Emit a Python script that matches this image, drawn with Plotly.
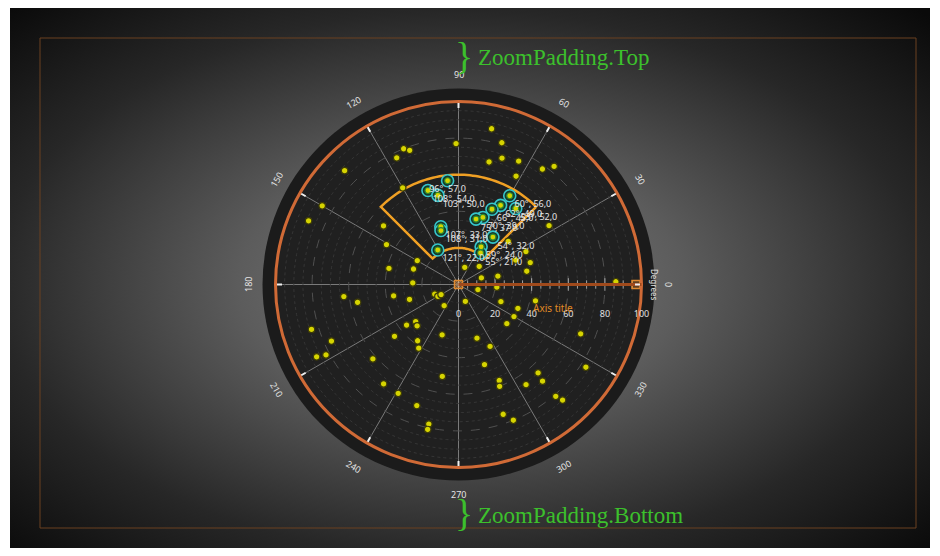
import base64
import numpy as np
import plotly.graph_objects as go

# ---------------- data ----------------
pt_theta = [112, 110, 116, 135, 91, 120, 150, 157, 142, 151, 150, 167, 161, 178,
            78, 73, 71, 76, 64, 54, 51, 62, 33, 41, 26, 23, 17, 70, 41, 11, 16, 12, 1,
            186, 190, 190, 197, 202, 210, 210, 236, 197, 204, 207, 208, 218, 221, 225,
            219, 252, 234, 238, 221, 260, 233, 241, 251, 258, 258,
            345, 356, 292, 338, 348, 338, 330, 321, 289, 297, 338, 288, 327, 312, 311,
            293, 292, 304, 311, 312, 289, 292]
pt_r = [80, 78, 77, 88, 77, 61, 86, 89, 52, 45, 26, 39, 26, 25,
        87, 81, 73, 69, 75, 78, 83, 67, 59, 36, 41, 34, 41, 10, 15, 38, 13, 22, 86,
        63, 56, 36, 28, 14, 13, 11, 14, 84, 76, 87, 82, 36, 31, 32,
        45, 29, 38, 41, 62, 51, 68, 68, 70, 78, 81,
        11, 21, 10, 25, 43, 35, 35, 34, 31, 38, 72, 46, 83, 65, 70,
        57, 60, 66, 81, 85, 75, 80]

sel_theta = [96, 108, 103, 107, 108, 121, 60, 62, 66, 53, 70, 75, 54, 59, 55]
sel_r = [57, 54, 50, 33, 31, 22, 56, 49, 45, 52, 39, 37, 32, 24, 21]

zoom_theta = [45, 135]      # selection sector (degrees)
zoom_r = [20, 60]           # selection sector (radius)

ang_ticks = [0, 30, 60, 90, 120, 150, 180, 210, 240, 270, 300, 330]
rad_range = [0, 100]
rad_dtick = 20
rad_minor_step = 5

# ---------------- layout geometry ----------------
W, H = 924, 540          # figure size (page has 8px body margin)
OFF = 8
CX, CY = 458.5, 284.5    # polar centre in page px
RP = 183                 # polar radius in px
R_DISK = 196
R_LAB = 210


def px(x):
    return (x - OFF) / W


def py(y):
    return 1 - (y - OFF) / H


fig = go.Figure()

# minor dotted rings
circ = np.linspace(0, 360, 241)
for rr in range(rad_minor_step, rad_range[1], rad_minor_step):
    if rr % rad_dtick == 0:
        continue
    fig.add_trace(go.Scatterpolar(theta=circ, r=[rr] * len(circ), mode="lines",
                                  line=dict(color="#363636", width=1, dash="dot"),
                                  hoverinfo="skip"))

# selection sector outline
ts = np.linspace(zoom_theta[0], zoom_theta[1], 61)
sec_t = list(ts) + list(ts[::-1]) + [zoom_theta[0]]
sec_r = [zoom_r[1]] * len(ts) + [zoom_r[0]] * len(ts) + [zoom_r[1]]
fig.add_trace(go.Scatterpolar(theta=sec_t, r=sec_r, mode="lines",
                              line=dict(color="#f0a024", width=2.5), hoverinfo="skip"))

# radial axis minor ticks
rt = list(range(rad_range[0], rad_range[1] + 1, rad_minor_step))
fig.add_trace(go.Scatterpolar(theta=[0] * len(rt), r=rt, mode="markers",
                              marker=dict(symbol="line-ns", size=[9 if v % rad_dtick == 0 else 6 for v in rt],
                                          line=dict(color="#d8d8d8", width=1)),
                              hoverinfo="skip"))
# axis end squares
fig.add_trace(go.Scatterpolar(theta=[0, 0], r=[0, 97], mode="markers",
                              marker=dict(symbol="square", size=8, color="rgba(220,130,40,0.35)",
                                          line=dict(color="#e08a30", width=1.5)),
                              hoverinfo="skip"))

# regular points
fig.add_trace(go.Scatterpolar(theta=pt_theta, r=pt_r, mode="markers",
                              marker=dict(size=6.5, color="#d6d400",
                                          line=dict(color="#3c3a08", width=1.2))))

# selected points: cyan ring + yellow dot + label
fig.add_trace(go.Scatterpolar(theta=sel_theta, r=sel_r, mode="markers",
                              marker=dict(size=12, color="#163a2c",
                                          line=dict(color="#36c6cc", width=1.6))))
labels = [f"{t}°, {r:.1f}".replace(".", ",") for t, r in zip(sel_theta, sel_r)]
tpos = ["bottom center" if t == 96 else "bottom right" for t in sel_theta]
fig.add_trace(go.Scatterpolar(theta=sel_theta, r=sel_r, mode="markers+text",
                              text=labels, textposition=tpos,
                              textfont=dict(family="Noto Sans", size=9, color="#e6e6e6"),
                              marker=dict(size=6, color="#d6d400",
                                          line=dict(color="#2c8a30", width=1.2))))

# ---------------- background ----------------
svg = ('<svg xmlns="http://www.w3.org/2000/svg" width="920" height="540" viewBox="0 0 920 540" '
       'preserveAspectRatio="none"><defs><radialGradient id="g" cx="49%" cy="51%" r="71%">'
       '<stop offset="0" stop-color="#7e7e7e"/><stop offset="0.34" stop-color="#5c5c5c"/>'
       '<stop offset="0.55" stop-color="#3e3e3e"/><stop offset="0.71" stop-color="#272727"/>'
       '<stop offset="1" stop-color="#0a0a0a"/></radialGradient></defs>'
       '<rect width="920" height="540" fill="url(#g)"/></svg>')
src = "data:image/svg+xml;base64," + base64.b64encode(svg.encode()).decode()

shapes = [
    dict(type="circle", xref="paper", yref="paper", layer="below",
         x0=px(CX - R_DISK), x1=px(CX + R_DISK), y0=py(CY + R_DISK), y1=py(CY - R_DISK),
         fillcolor="#1b1b1b", line=dict(width=0)),
    dict(type="rect", xref="paper", yref="paper", layer="below",
         x0=px(40), x1=px(916), y0=py(528), y1=py(38),
         line=dict(color="#6a4020", width=1)),
]

annotations = []
for a in ang_ticks:
    rad = np.deg2rad(a)
    x = CX + R_LAB * np.cos(rad)
    y = CY - R_LAB * np.sin(rad)
    ang = 90 - a if a <= 180 else 270 - a
    annotations.append(dict(x=px(x), y=py(y), xref="paper", yref="paper", text=str(a),
                            showarrow=False, textangle=ang, xanchor="center", yanchor="middle",
                            font=dict(family="Noto Sans", size=9, color="#e4e4e4")))
green = "#3cc02c"
annotations += [
    dict(x=px(CX + 196), y=py(CY), xref="paper", yref="paper", text="Degrees", showarrow=False,
         textangle=90, xanchor="center", yanchor="middle",
         font=dict(family="Noto Sans", size=8, color="#e4e4e4")),
    dict(x=px(553), y=py(308), xref="paper", yref="paper", text="Axis title", showarrow=False,
         xanchor="center", yanchor="middle",
         font=dict(family="Noto Sans", size=10, color="#e08a24")),
    dict(x=px(464), y=py(56), xref="paper", yref="paper", text="}", showarrow=False,
         xanchor="center", yanchor="middle",
         font=dict(family="Liberation Serif", size=38, color=green)),
    dict(x=px(476), y=py(57), xref="paper", yref="paper", text="ZoomPadding.Top", showarrow=False,
         xanchor="left", yanchor="middle", font=dict(family="Liberation Serif", size=23, color=green)),
    dict(x=px(464), y=py(513), xref="paper", yref="paper", text="}", showarrow=False,
         xanchor="center", yanchor="middle",
         font=dict(family="Liberation Serif", size=38, color=green)),
    dict(x=px(476), y=py(515), xref="paper", yref="paper", text="ZoomPadding.Bottom", showarrow=False,
         xanchor="left", yanchor="middle", font=dict(family="Liberation Serif", size=23, color=green)),
]

fig.update_layout(
    width=W, height=H, margin=dict(l=0, r=0, t=0, b=0),
    paper_bgcolor="white", showlegend=False,
    images=[dict(source=src, xref="paper", yref="paper", x=px(10), y=py(8),
                 sizex=920 / W, sizey=540 / H, xanchor="left", yanchor="top",
                 sizing="stretch", layer="below")],
    shapes=shapes, annotations=annotations,
    polar=dict(
        domain=dict(x=[px(CX - RP), px(CX + RP)], y=[py(CY + RP), py(CY - RP)]),
        bgcolor="#202020",
        radialaxis=dict(range=rad_range, dtick=rad_dtick, angle=0, side="clockwise",
                        showline=True, linecolor="#a04a1c", linewidth=3,
                        gridcolor="#505050", griddash="dash", gridwidth=1,
                        ticks="outside", ticklen=20, tickcolor="rgba(0,0,0,0)",
                        tickfont=dict(family="Noto Sans", size=9, color="#e0e0e0")),
        angularaxis=dict(rotation=0, direction="counterclockwise", dtick=30,
                         showline=True, linecolor="#d06a36", linewidth=3,
                         gridcolor="#7a7a7a", gridwidth=1,
                         ticks="inside", ticklen=5, tickwidth=2, tickcolor="#f0f0f0",
                         showticklabels=False),
    ),
)

fig.write_html("out.html")
